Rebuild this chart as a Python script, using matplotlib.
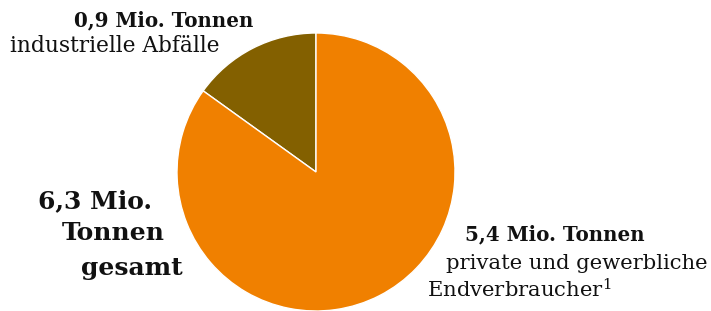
import matplotlib
matplotlib.use('Agg')
import matplotlib.pyplot as plt

# data (slice sizes as drawn; labels show rounded values)
labels = ['industrielle Abfälle', 'private und gewerbliche Endverbraucher']
values = [0.95, 5.35]
colors = ['#836000', '#F08000']

W, H = 711, 311
fig = plt.figure(figsize=(W / 100, H / 100), dpi=100)
plt.rcParams['font.family'] = ['DejaVu Serif']
plt.rcParams['mathtext.fontset'] = 'dejavuserif'

# pie centre (316,172) radius 139 in pixel coords
cx, cy, r = 316, 172, 139
ax = fig.add_axes([(cx - r) / W, (H - cy - r) / H, 2 * r / W, 2 * r / H])
ax.pie(values, colors=colors, startangle=90, counterclock=True, radius=1,
       wedgeprops=dict(edgecolor='white', linewidth=1))
ax.set_xlim(-1, 1)
ax.set_ylim(-1, 1)
ax.set_aspect('equal')
ax.axis('off')


def txt(x, y, s, size, weight='normal', ha='left'):
    # x, y = pixel position of baseline
    fig.text(x / W, (H - y) / H, s, fontsize=size, fontweight=weight,
             ha=ha, va='baseline', color='#111111')


txt(253, 26, '0,9 Mio. Tonnen', 14.3, 'bold', ha='right')
txt(220, 52, 'industrielle Abfälle', 15.7, ha='right')

txt(152, 208, '6,3 Mio.', 18, 'bold', ha='right')
txt(165, 240, 'Tonnen', 18, 'bold', ha='right')
txt(183, 275, 'gesamt', 18, 'bold', ha='right')

txt(645, 240, '5,4 Mio. Tonnen', 14.3, 'bold', ha='right')
txt(708, 269, 'private und gewerbliche', 15.2, ha='right')
txt(427, 298, 'Endverbraucher$^{1}$', 15.2)

fig.savefig('out.png', dpi=100)
